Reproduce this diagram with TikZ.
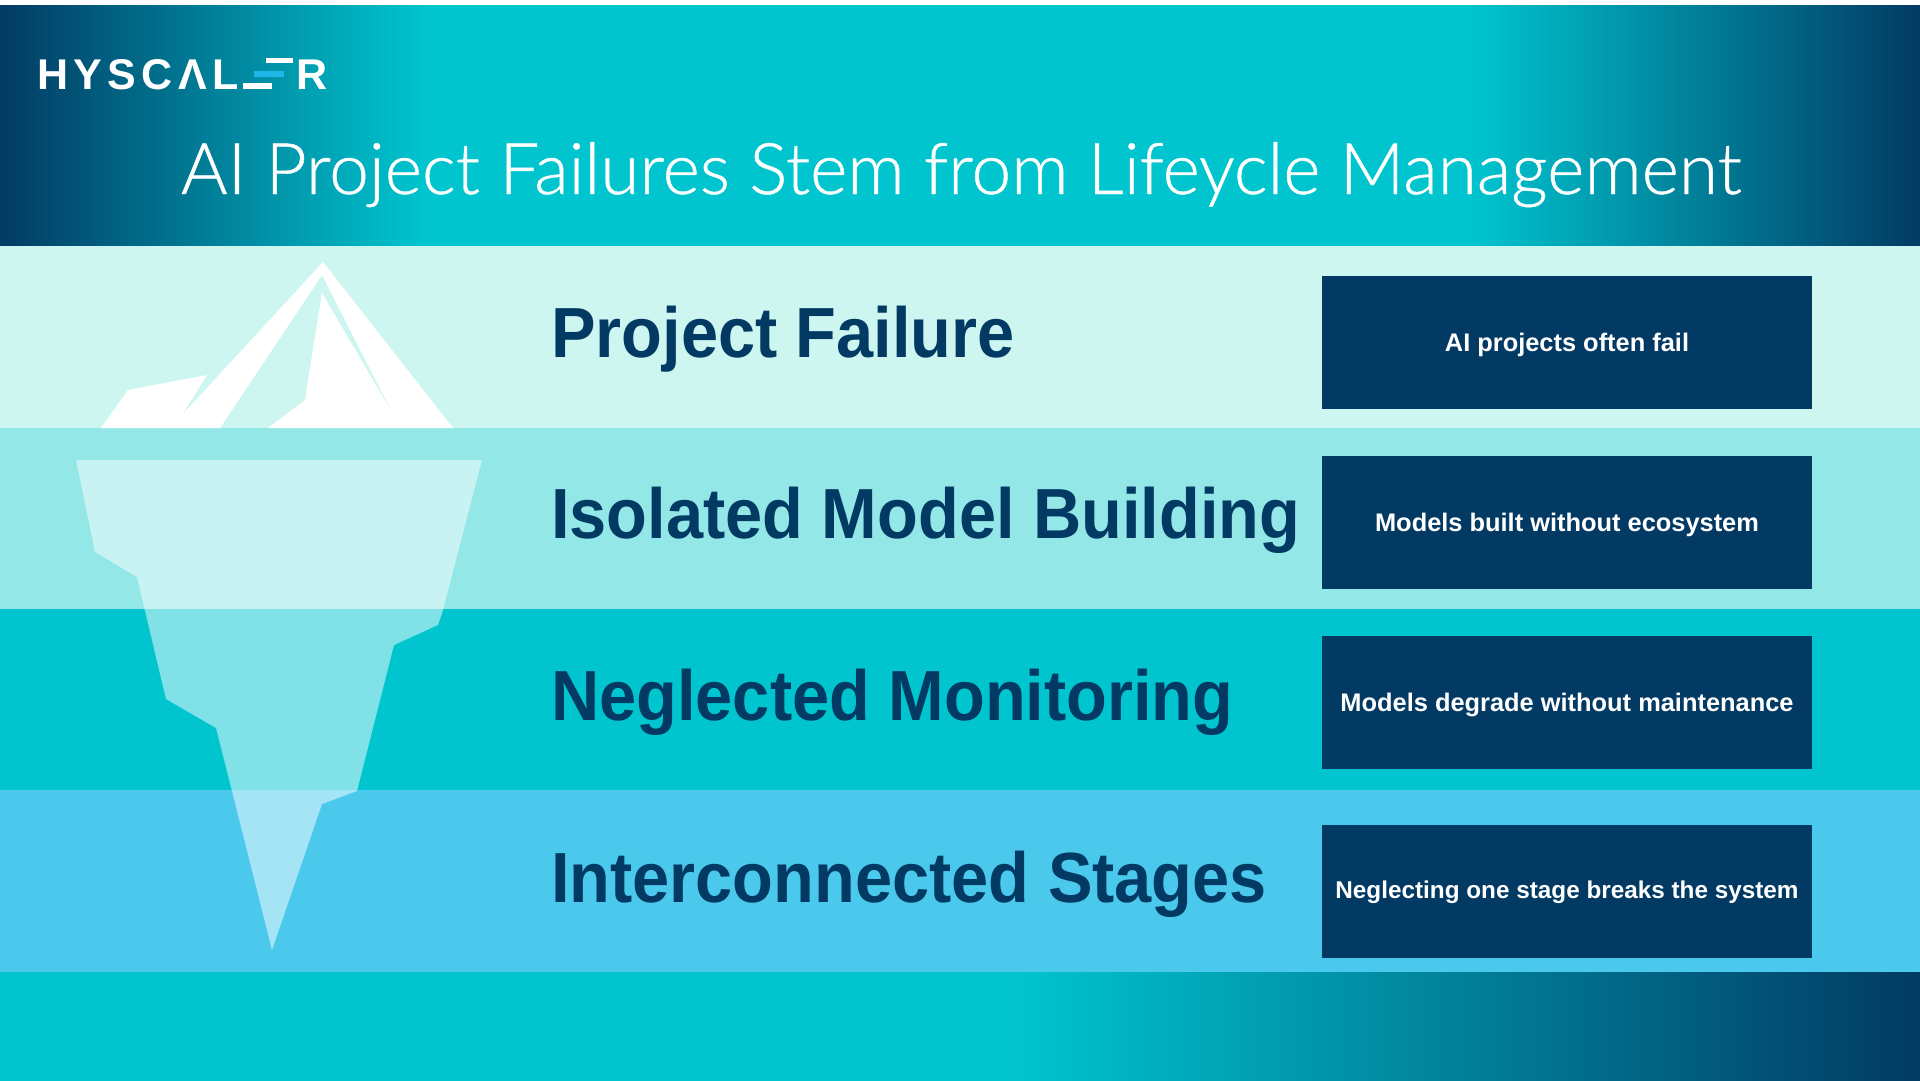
\documentclass[tikz,border=0pt]{standalone}
\usepackage{fontspec}
\setmainfont{Liberation Sans}
\newfontfamily\titlefont{Lato Light}[FakeBold=0.6]
\newfontfamily\headfont{Liberation Sans}[FakeStretch=0.94]
\newfontfamily\logofont{Liberation Sans}[LetterSpace=12.5]
\newcommand\bHeigh{181.8pt}
\newcommand\lWidth{490pt}
\newcommand\lHeigh{133pt}
\definecolor{navy}{HTML}{023A63}
\definecolor{teal}{HTML}{00C5CF}
\definecolor{bandA}{HTML}{CDF6F0}
\definecolor{bandB}{HTML}{93E7E7}
\definecolor{bandC}{HTML}{00C5CF}
\definecolor{bandD}{HTML}{4BC9EC}
\definecolor{logoblue}{HTML}{1FB6EA}
\tikzstyle{band} = [rectangle, minimum width=1920pt, minimum height=\bHeigh, inner sep=0pt, anchor=north west]
\tikzstyle{label} = [rectangle, minimum width=\lWidth, minimum height=\lHeigh, inner sep=0pt, fill=navy, text=white, text height=22pt, text depth=4pt, font=\bfseries\fontsize{25.4}{30}\selectfont]
\tikzstyle{head} = [anchor=base west, inner sep=0pt, text=navy, font=\headfont\bfseries\fontsize{71}{80}\selectfont]
\tikzstyle{logo} = [anchor=base west, inner sep=0pt, text=white, font=\logofont\bfseries\fontsize{43}{46}\selectfont]
\tikzstyle{bar} = [fill=white]
\begin{document}
\begin{tikzpicture} [x=1pt, y=-1pt, node distance = 181.3pt]
\useasboundingbox (0,0) rectangle (1920,1080);
\fill [teal] (-2,-2) rectangle (1922,1082);
\fill [white] (-2,-2) rectangle (1922,5);
\shade [left color=navy, right color=teal] (-2,5) rectangle (425,246.5);
\shade [left color=teal, right color=navy] (1470,5) rectangle (1922,246.5);
\shade [left color=teal, right color=navy] (1010,971) rectangle (1922,1082);

\node (logotext) [logo] at (37,89) {HYSCΛL};
\node (logoend) [logo] at (296,89) {R};
\fill [bar] (266,58) rectangle (293,63);
\fill [logoblue] (254,71) rectangle (284,77);
\fill [bar] (243,83) rectangle (272,89);

\node (title) [anchor=base, text=white, font=\titlefont\fontsize{71.2}{80}\selectfont] at (961,194) {AI Project Failures Stem from Lifeycle Management};

\node (bandfail) [band, fill=bandA] at (0,246) {};
\node (bandiso) [band, fill=bandB, below of = bandfail] {};
\node (bandmon) [band, fill=bandC, below of = bandiso] {};
\node (bandstage) [band, fill=bandD, below of = bandmon] {};

\fill [white] (323,262) -- (453,428) -- (400,428) -- (322,275) -- (220,428) -- (101,428) -- (128,390) -- (207,375) -- (182,415) -- cycle;
\fill [white] (322,293) -- (401,428) -- (268,428) -- (305,400) -- (308,380) -- cycle;
\fill [white, opacity=0.5] (76,460) -- (482,460) -- (443,610) -- (438,625) -- (394,645) -- (357,791) -- (322,804) -- (272,950) -- (232,791) -- (216,728) -- (166,699) -- (137,577) -- (95,552) -- cycle;

\node (headfail) [head] at (551,357) {Project Failure};
\node (headiso) [head] at (551,538) {Isolated Model Building};
\node (headmon) [head] at (551,720) {Neglected Monitoring};
\node (headstage) [head] at (551,902) {Interconnected Stages};

\node (boxfail) [label] at (1567,342) {AI projects often fail};
\node (boxiso) [label] at (1567,522) {Models built without ecosystem};
\node (boxmon) [label] at (1567,702) {Models degrade without maintenance};
\node (boxstage) [label, text height=20pt, text depth=6pt, font=\bfseries\fontsize{24.3}{30}\selectfont] at (1567,891) {Neglecting one stage breaks the system};
\end{tikzpicture}
\end{document}
